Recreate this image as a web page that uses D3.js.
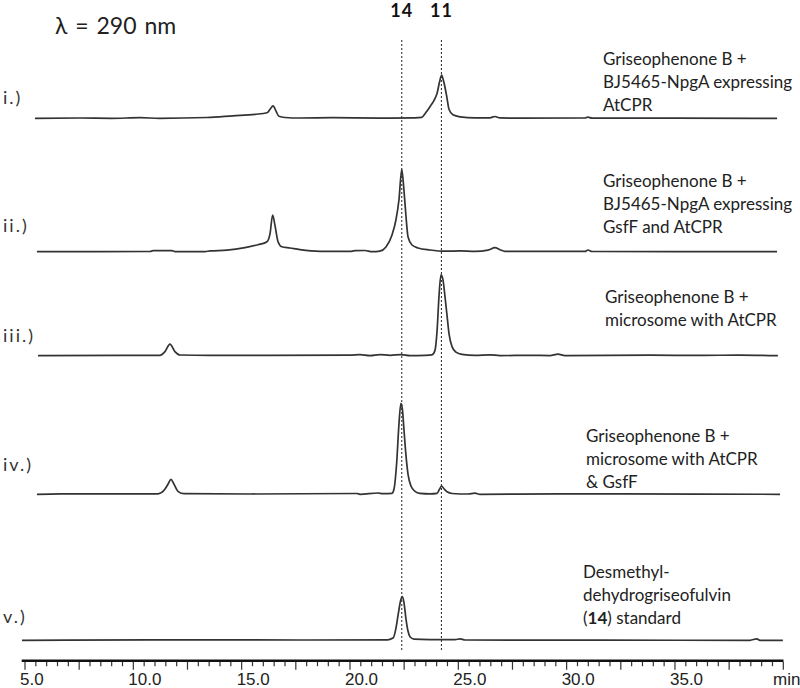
<!DOCTYPE html>
<html>
<head>
<meta charset="utf-8">
<script src="https://cdn.jsdelivr.net/npm/d3@7"></script>
<style>
  html, body { margin: 0; padding: 0; background: #fff; }
  svg { display: block; }
</style>
</head>
<body>
<script>
// ---------------- DATA ----------------
// Retention time (min) and detector response (mAU, arbitrary) at 290 nm
const traceNames = ["i.)", "ii.)", "iii.)", "iv.)", "v.)"];

const traceI = [
  [5.46,0],[7.5,0.3],[9.0,0],[10.31,0.6],[11.2,0],[13.4,0.8],[14.6,2.5],[15.62,4],[16.17,5.5],
  [16.31,9],[16.45,12.5],[16.59,7],[16.72,2],[17.0,0.8],[17.69,0.3],[19.2,0.6],[21.38,0.2],
  [23.0,0.5],[23.31,1],[23.51,6],[23.69,11.6],[23.88,18],[24.02,25],[24.13,36],[24.23,43.3],
  [24.31,38],[24.38,31.6],[24.48,20],[24.57,9],[24.75,3.5],[25.08,1.5],[25.77,0.5],[26.46,0.5],
  [26.69,1.8],[26.92,0.4],[27.85,0.2],[30.85,0.3],[30.98,1.2],[31.17,0.2],[35.0,0.1],[39.71,0]
];
const traceII = [
  [5.55,0],[10.77,0.2],[10.91,1],[11.78,1],[11.97,0],[13.31,0],[13.54,0.8],[14.32,1.5],[15.15,4],
  [15.75,7],[16.17,10],[16.31,18],[16.43,36.7],[16.54,26],[16.68,10],[16.85,5],[17.23,3.7],
  [17.69,2],[18.62,0.3],[20.0,0.3],[20.23,1],[20.69,1.2],[21.02,0],[21.38,0.6],[21.66,4.7],
  [21.94,16.7],[22.12,31.7],[22.26,51.7],[22.39,82.4],[22.49,61.7],[22.58,36.7],[22.68,14.7],
  [22.86,6.7],[23.14,3.7],[23.69,1.7],[24.38,0.5],[25.08,0.8],[25.77,0.3],[26.37,1.5],[26.69,4],
  [26.92,2],[27.15,0.3],[30.85,0.3],[30.98,1.7],[31.17,0.2],[35.0,0.1],[39.71,0]
];
const traceIII = [
  [5.6,0],[11.23,0.3],[11.46,4],[11.69,11.5],[11.92,4],[12.15,0.6],[13.54,0.2],[20.0,0.5],
  [20.46,1],[20.92,0],[21.38,1],[21.85,0.3],[22.35,1],[22.77,0],[23.46,0.3],[23.78,0.8],
  [23.92,5],[24.02,25],[24.11,60],[24.2,80.7],[24.29,76],[24.38,60],[24.48,40],[24.57,22],
  [24.71,9],[24.89,3.5],[25.17,1.2],[25.77,0.3],[26.46,0.8],[26.92,0],[28.31,0.3],[29.23,0],
  [29.6,1.5],[29.92,0],[33.85,0.4],[36.15,0.2],[38.0,0.5],[39.75,0]
];
const traceIV = [
  [5.55,0],[6.62,0.5],[11.14,0.5],[11.42,4],[11.6,10],[11.74,15],[11.88,10],[12.06,3],
  [12.34,0.6],[15.38,0.3],[20.32,0.8],[20.46,0],[21.29,1.3],[21.52,0.6],[21.94,1],[22.03,5],
  [22.15,30],[22.26,70],[22.35,91],[22.42,85],[22.49,65],[22.58,40],[22.68,20],[22.82,8],
  [23.0,3],[23.23,1],[23.69,0.5],[24.02,1],[24.13,5],[24.23,8.3],[24.34,5.5],[24.48,2.5],
  [24.71,0.8],[25.45,0.3],[25.77,1.2],[26.0,0],[29.69,0.4],[36.15,0.2],[39.85,0]
];
const traceV = [
  [4.86,0],[10.77,0.4],[17.69,0.3],[21.75,0.5],[22.0,2.5],[22.12,12],[22.24,28],[22.33,39],
  [22.41,43.6],[22.49,38],[22.58,22],[22.68,9],[22.77,3.5],[22.95,1.2],[23.69,0.7],[24.85,0.6],
  [25.08,1.5],[25.31,0.3],[31.54,0.2],[38.46,0],[38.78,1.5],[38.92,0],[39.98,0]
];
const traces = [traceI, traceII, traceIII, traceIV, traceV];

const sampleNotes = [
  ["Griseophenone B +", "BJ5465-NpgA expressing", "AtCPR"],
  ["Griseophenone B +", "BJ5465-NpgA expressing", "GsfF and AtCPR"],
  ["Griseophenone B +", "microsome with AtCPR"],
  ["Griseophenone B +", "microsome with AtCPR", "& GsfF"],
  ["Desmethyl-", "dehydrogriseofulvin", "(14) standard"]
];

const markerTimes = [22.39, 24.22];
const markerLabels = ["14", "11"];

const tickLabelValues = [5, 10, 15, 20, 25, 30, 35];
const tickLabels = ["5.0", "10.0", "15.0", "20.0", "25.0", "30.0", "35.0"];

// ---------------- LAYOUT ----------------
const W = 800, H = 688;
const baselines = [118.3, 251.7, 355.6, 494.3, 640.3];
const labelY = [104, 232, 342, 471, 623];
const noteX = [603, 603, 605, 586, 583];
const noteY = [65, 187, 303, 442, 578];
const lineGap = 23.2;
const axisY = 660.7;

const svg = d3.select("body").append("svg").attr("width", W).attr("height", H);

const x = d3.scaleLinear().domain([5, 40]).range([25, 783.3]);
const amp = d3.scaleLinear().domain([0, 100]).range([0, 100]);

// title
svg.append("text").attr("x", 55).attr("y", 34)
  .attr("font-family", "Lato, 'Open Sans', sans-serif").attr("font-size", 23)
  .attr("fill", "#222").style("word-spacing", "2px")
  .text("λ = 290 nm");

// marker labels and dashed lines
markerTimes.forEach((t, i) => {
  svg.append("line")
    .attr("x1", x(t)).attr("x2", x(t)).attr("y1", 40).attr("y2", 652)
    .attr("stroke", "#222").attr("stroke-width", 1).attr("stroke-dasharray", "2,2");
  svg.append("text").attr("x", x(t)).attr("y", 17).attr("text-anchor", "middle")
    .attr("font-family", "Lato, 'Open Sans', sans-serif").attr("font-weight", "bold")
    .attr("font-size", 18).attr("letter-spacing", 1).attr("fill", "#111")
    .text(markerLabels[i]);
});

// traces
const line = d3.line().curve(d3.curveMonotoneX);
traces.forEach((tr, i) => {
  line.x(d => x(d[0])).y(d => baselines[i] - amp(d[1]));
  svg.append("path").datum(tr).attr("d", line)
    .attr("fill", "none").attr("stroke", "#333").attr("stroke-width", 1.7)
    .attr("stroke-linejoin", "round");
  svg.append("text").attr("x", 3).attr("y", labelY[i])
    .attr("font-family", "Lato, 'Open Sans', sans-serif").attr("font-size", 18)
    .attr("letter-spacing", 2).attr("fill", "#333").text(traceNames[i]);
  sampleNotes[i].forEach((s, j) => {
    const tx = svg.append("text").attr("x", noteX[i]).attr("y", noteY[i] + j * lineGap)
      .attr("font-family", "Lato, 'Open Sans', sans-serif").attr("font-size", 17)
      .attr("fill", "#222");
    if (s.startsWith("(14)")) {
      tx.append("tspan").text("(");
      tx.append("tspan").attr("font-weight", "bold").text("14");
      tx.append("tspan").text(") standard");
    } else {
      tx.text(s);
    }
  });
});

// axis
const axisG = svg.append("g").attr("transform", `translate(0,${axisY})`);
axisG.append("line").attr("x1", 21.7).attr("x2", 783.5).attr("y1", 0).attr("y2", 0)
  .attr("stroke", "#111").attr("stroke-width", 2.6);
const minorTicks = d3.range(5, 40.001, 0.5);
axisG.selectAll("line.minor").data(minorTicks).enter().append("line")
  .attr("class", "minor")
  .attr("x1", d => x(d)).attr("x2", d => x(d))
  .attr("y1", 1).attr("y2", d => (Math.abs(d / 2.5 - Math.round(d / 2.5)) < 1e-6) ? 9 : 5.5)
  .attr("stroke", "#333").attr("stroke-width", 1.2);
axisG.selectAll("text.tl").data(tickLabelValues).enter().append("text")
  .attr("class", "tl")
  .attr("x", d => x(d) - 5).attr("y", 24.5)
  .attr("font-family", "'Liberation Sans', Arial, sans-serif").attr("font-size", 17)
  .attr("fill", "#222")
  .text((d, i) => tickLabels[i]);
axisG.append("text").attr("x", 773).attr("y", 24.5)
  .attr("font-family", "'Liberation Sans', Arial, sans-serif").attr("font-size", 17)
  .attr("fill", "#222").text("min");
</script>
</body>
</html>
